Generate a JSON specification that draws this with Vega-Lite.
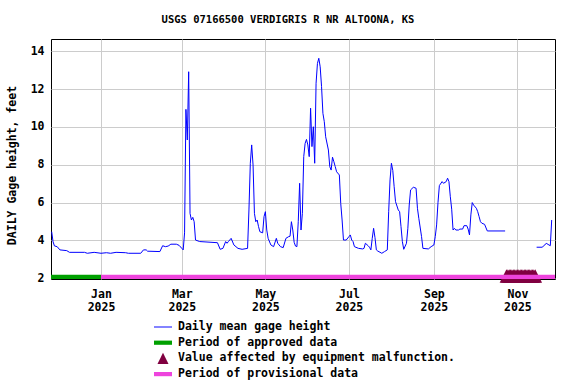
{
  "$schema": "https://vega.github.io/schema/vega-lite/v6.json",
  "autosize": "none",
  "width": 504,
  "height": 240,
  "padding": {"left": 51, "top": 39, "right": 21, "bottom": 105},
  "background": "white",
  "config": {
    "font": "DejaVu Sans Mono",
    "view": {"stroke": "black", "strokeWidth": 1},
    "axis": {"labelFont": "DejaVu Sans Mono", "labelFontWeight": "bold", "labelFontSize": 11.5, "labelColor": "black", "titleFont": "DejaVu Sans Mono", "titleFontWeight": "bold", "titleFontSize": 11.5, "titleColor": "black", "gridColor": "#cccccc", "gridWidth": 1, "domain": false, "ticks": false, "labelOverlap": false}
  },
  "title": {"text": "USGS 07166500 VERDIGRIS R NR ALTOONA, KS", "font": "DejaVu Sans Mono", "fontWeight": "bold", "fontSize": 10.5, "color": "black", "anchor": "middle", "dx": -15, "offset": 14},
  "datasets": {
    "daily": [
      {"date": "2024-11-26", "height": 4.46, "seg": "a"},
      {"date": "2024-11-27", "height": 3.93, "seg": "a"},
      {"date": "2024-11-28", "height": 3.71, "seg": "a"},
      {"date": "2024-11-30", "height": 3.67, "seg": "a"},
      {"date": "2024-12-02", "height": 3.50, "seg": "a"},
      {"date": "2024-12-07", "height": 3.46, "seg": "a"},
      {"date": "2024-12-09", "height": 3.37, "seg": "a"},
      {"date": "2024-12-20", "height": 3.37, "seg": "a"},
      {"date": "2024-12-22", "height": 3.32, "seg": "a"},
      {"date": "2024-12-27", "height": 3.37, "seg": "a"},
      {"date": "2025-01-01", "height": 3.32, "seg": "a"},
      {"date": "2025-01-05", "height": 3.35, "seg": "a"},
      {"date": "2025-01-08", "height": 3.32, "seg": "a"},
      {"date": "2025-01-12", "height": 3.37, "seg": "a"},
      {"date": "2025-01-19", "height": 3.35, "seg": "a"},
      {"date": "2025-01-21", "height": 3.32, "seg": "a"},
      {"date": "2025-01-30", "height": 3.32, "seg": "a"},
      {"date": "2025-02-01", "height": 3.50, "seg": "a"},
      {"date": "2025-02-03", "height": 3.50, "seg": "a"},
      {"date": "2025-02-04", "height": 3.43, "seg": "a"},
      {"date": "2025-02-13", "height": 3.41, "seg": "a"},
      {"date": "2025-02-15", "height": 3.72, "seg": "a"},
      {"date": "2025-02-17", "height": 3.67, "seg": "a"},
      {"date": "2025-02-19", "height": 3.70, "seg": "a"},
      {"date": "2025-02-21", "height": 3.80, "seg": "a"},
      {"date": "2025-02-25", "height": 3.80, "seg": "a"},
      {"date": "2025-02-27", "height": 3.74, "seg": "a"},
      {"date": "2025-03-01", "height": 3.58, "seg": "a"},
      {"date": "2025-03-02", "height": 3.50, "seg": "a"},
      {"date": "2025-03-03", "height": 4.40, "seg": "a"},
      {"date": "2025-03-04", "height": 10.93, "seg": "a"},
      {"date": "2025-03-05", "height": 9.31, "seg": "a"},
      {"date": "2025-03-06", "height": 12.92, "seg": "a"},
      {"date": "2025-03-07", "height": 5.43, "seg": "a"},
      {"date": "2025-03-08", "height": 5.08, "seg": "a"},
      {"date": "2025-03-09", "height": 5.22, "seg": "a"},
      {"date": "2025-03-10", "height": 4.99, "seg": "a"},
      {"date": "2025-03-11", "height": 4.02, "seg": "a"},
      {"date": "2025-03-14", "height": 3.94, "seg": "a"},
      {"date": "2025-03-27", "height": 3.88, "seg": "a"},
      {"date": "2025-03-29", "height": 3.53, "seg": "a"},
      {"date": "2025-03-31", "height": 3.58, "seg": "a"},
      {"date": "2025-04-02", "height": 3.94, "seg": "a"},
      {"date": "2025-04-03", "height": 3.85, "seg": "a"},
      {"date": "2025-04-04", "height": 3.94, "seg": "a"},
      {"date": "2025-04-06", "height": 4.11, "seg": "a"},
      {"date": "2025-04-08", "height": 3.76, "seg": "a"},
      {"date": "2025-04-11", "height": 3.58, "seg": "a"},
      {"date": "2025-04-14", "height": 3.53, "seg": "a"},
      {"date": "2025-04-18", "height": 3.58, "seg": "a"},
      {"date": "2025-04-19", "height": 5.61, "seg": "a"},
      {"date": "2025-04-20", "height": 8.08, "seg": "a"},
      {"date": "2025-04-21", "height": 9.05, "seg": "a"},
      {"date": "2025-04-22", "height": 7.99, "seg": "a"},
      {"date": "2025-04-23", "height": 5.43, "seg": "a"},
      {"date": "2025-04-24", "height": 4.99, "seg": "a"},
      {"date": "2025-04-25", "height": 5.08, "seg": "a"},
      {"date": "2025-04-26", "height": 4.73, "seg": "a"},
      {"date": "2025-04-27", "height": 4.46, "seg": "a"},
      {"date": "2025-04-29", "height": 4.40, "seg": "a"},
      {"date": "2025-04-30", "height": 5.26, "seg": "a"},
      {"date": "2025-05-01", "height": 5.52, "seg": "a"},
      {"date": "2025-05-02", "height": 4.55, "seg": "a"},
      {"date": "2025-05-03", "height": 4.11, "seg": "a"},
      {"date": "2025-05-05", "height": 3.76, "seg": "a"},
      {"date": "2025-05-07", "height": 3.67, "seg": "a"},
      {"date": "2025-05-09", "height": 4.11, "seg": "a"},
      {"date": "2025-05-10", "height": 3.85, "seg": "a"},
      {"date": "2025-05-12", "height": 3.67, "seg": "a"},
      {"date": "2025-05-14", "height": 3.62, "seg": "a"},
      {"date": "2025-05-16", "height": 4.11, "seg": "a"},
      {"date": "2025-05-18", "height": 4.20, "seg": "a"},
      {"date": "2025-05-19", "height": 4.22, "seg": "a"},
      {"date": "2025-05-20", "height": 4.99, "seg": "a"},
      {"date": "2025-05-21", "height": 4.55, "seg": "a"},
      {"date": "2025-05-22", "height": 3.90, "seg": "a"},
      {"date": "2025-05-23", "height": 3.70, "seg": "a"},
      {"date": "2025-05-24", "height": 3.67, "seg": "a"},
      {"date": "2025-05-25", "height": 4.99, "seg": "a"},
      {"date": "2025-05-26", "height": 7.02, "seg": "a"},
      {"date": "2025-05-27", "height": 4.55, "seg": "a"},
      {"date": "2025-05-28", "height": 5.43, "seg": "a"},
      {"date": "2025-05-29", "height": 8.43, "seg": "a"},
      {"date": "2025-05-30", "height": 9.13, "seg": "a"},
      {"date": "2025-05-31", "height": 9.34, "seg": "a"},
      {"date": "2025-06-01", "height": 9.05, "seg": "a"},
      {"date": "2025-06-02", "height": 8.43, "seg": "a"},
      {"date": "2025-06-03", "height": 10.99, "seg": "a"},
      {"date": "2025-06-04", "height": 8.96, "seg": "a"},
      {"date": "2025-06-05", "height": 10.01, "seg": "a"},
      {"date": "2025-06-06", "height": 8.08, "seg": "a"},
      {"date": "2025-06-07", "height": 12.31, "seg": "a"},
      {"date": "2025-06-08", "height": 13.36, "seg": "a"},
      {"date": "2025-06-09", "height": 13.63, "seg": "a"},
      {"date": "2025-06-10", "height": 13.18, "seg": "a"},
      {"date": "2025-06-11", "height": 12.13, "seg": "a"},
      {"date": "2025-06-12", "height": 10.72, "seg": "a"},
      {"date": "2025-06-13", "height": 10.28, "seg": "a"},
      {"date": "2025-06-14", "height": 9.48, "seg": "a"},
      {"date": "2025-06-16", "height": 8.78, "seg": "a"},
      {"date": "2025-06-17", "height": 7.90, "seg": "a"},
      {"date": "2025-06-18", "height": 7.72, "seg": "a"},
      {"date": "2025-06-19", "height": 8.40, "seg": "a"},
      {"date": "2025-06-20", "height": 8.16, "seg": "a"},
      {"date": "2025-06-21", "height": 7.90, "seg": "a"},
      {"date": "2025-06-22", "height": 7.63, "seg": "a"},
      {"date": "2025-06-24", "height": 7.46, "seg": "a"},
      {"date": "2025-06-25", "height": 5.96, "seg": "a"},
      {"date": "2025-06-26", "height": 5.08, "seg": "a"},
      {"date": "2025-06-27", "height": 4.02, "seg": "a"},
      {"date": "2025-06-29", "height": 4.02, "seg": "a"},
      {"date": "2025-07-01", "height": 4.20, "seg": "a"},
      {"date": "2025-07-02", "height": 4.29, "seg": "a"},
      {"date": "2025-07-03", "height": 4.02, "seg": "a"},
      {"date": "2025-07-04", "height": 3.94, "seg": "a"},
      {"date": "2025-07-05", "height": 3.67, "seg": "a"},
      {"date": "2025-07-08", "height": 3.58, "seg": "a"},
      {"date": "2025-07-11", "height": 3.55, "seg": "a"},
      {"date": "2025-07-12", "height": 3.58, "seg": "a"},
      {"date": "2025-07-13", "height": 3.85, "seg": "a"},
      {"date": "2025-07-15", "height": 3.72, "seg": "a"},
      {"date": "2025-07-16", "height": 3.64, "seg": "a"},
      {"date": "2025-07-17", "height": 3.50, "seg": "a"},
      {"date": "2025-07-18", "height": 4.11, "seg": "a"},
      {"date": "2025-07-19", "height": 4.64, "seg": "a"},
      {"date": "2025-07-20", "height": 4.15, "seg": "a"},
      {"date": "2025-07-21", "height": 3.50, "seg": "a"},
      {"date": "2025-07-22", "height": 3.44, "seg": "a"},
      {"date": "2025-07-25", "height": 3.32, "seg": "a"},
      {"date": "2025-07-27", "height": 3.41, "seg": "a"},
      {"date": "2025-07-29", "height": 3.50, "seg": "a"},
      {"date": "2025-07-30", "height": 5.52, "seg": "a"},
      {"date": "2025-07-31", "height": 7.20, "seg": "a"},
      {"date": "2025-08-01", "height": 8.08, "seg": "a"},
      {"date": "2025-08-02", "height": 7.70, "seg": "a"},
      {"date": "2025-08-03", "height": 6.84, "seg": "a"},
      {"date": "2025-08-04", "height": 6.05, "seg": "a"},
      {"date": "2025-08-06", "height": 5.61, "seg": "a"},
      {"date": "2025-08-07", "height": 5.52, "seg": "a"},
      {"date": "2025-08-08", "height": 4.73, "seg": "a"},
      {"date": "2025-08-09", "height": 3.94, "seg": "a"},
      {"date": "2025-08-10", "height": 3.53, "seg": "a"},
      {"date": "2025-08-12", "height": 3.85, "seg": "a"},
      {"date": "2025-08-13", "height": 4.64, "seg": "a"},
      {"date": "2025-08-14", "height": 5.87, "seg": "a"},
      {"date": "2025-08-15", "height": 6.67, "seg": "a"},
      {"date": "2025-08-17", "height": 6.81, "seg": "a"},
      {"date": "2025-08-19", "height": 6.76, "seg": "a"},
      {"date": "2025-08-20", "height": 5.70, "seg": "a"},
      {"date": "2025-08-21", "height": 5.17, "seg": "a"},
      {"date": "2025-08-23", "height": 4.20, "seg": "a"},
      {"date": "2025-08-24", "height": 3.58, "seg": "a"},
      {"date": "2025-08-28", "height": 3.55, "seg": "a"},
      {"date": "2025-08-30", "height": 3.67, "seg": "a"},
      {"date": "2025-09-01", "height": 3.76, "seg": "a"},
      {"date": "2025-09-02", "height": 4.20, "seg": "a"},
      {"date": "2025-09-03", "height": 4.82, "seg": "a"},
      {"date": "2025-09-04", "height": 6.00, "seg": "a"},
      {"date": "2025-09-05", "height": 6.90, "seg": "a"},
      {"date": "2025-09-07", "height": 7.11, "seg": "a"},
      {"date": "2025-09-08", "height": 7.02, "seg": "a"},
      {"date": "2025-09-10", "height": 7.11, "seg": "a"},
      {"date": "2025-09-11", "height": 7.29, "seg": "a"},
      {"date": "2025-09-12", "height": 7.11, "seg": "a"},
      {"date": "2025-09-13", "height": 6.31, "seg": "a"},
      {"date": "2025-09-14", "height": 5.65, "seg": "a"},
      {"date": "2025-09-15", "height": 4.55, "seg": "a"},
      {"date": "2025-09-16", "height": 4.64, "seg": "a"},
      {"date": "2025-09-17", "height": 4.55, "seg": "a"},
      {"date": "2025-09-19", "height": 4.55, "seg": "a"},
      {"date": "2025-09-20", "height": 4.60, "seg": "a"},
      {"date": "2025-09-22", "height": 4.60, "seg": "a"},
      {"date": "2025-09-23", "height": 4.78, "seg": "a"},
      {"date": "2025-09-25", "height": 4.78, "seg": "a"},
      {"date": "2025-09-26", "height": 4.60, "seg": "a"},
      {"date": "2025-09-27", "height": 4.29, "seg": "a"},
      {"date": "2025-09-28", "height": 5.35, "seg": "a"},
      {"date": "2025-09-29", "height": 6.00, "seg": "a"},
      {"date": "2025-09-30", "height": 5.87, "seg": "a"},
      {"date": "2025-10-02", "height": 5.70, "seg": "a"},
      {"date": "2025-10-03", "height": 5.52, "seg": "a"},
      {"date": "2025-10-04", "height": 5.26, "seg": "a"},
      {"date": "2025-10-05", "height": 4.99, "seg": "a"},
      {"date": "2025-10-06", "height": 4.91, "seg": "a"},
      {"date": "2025-10-08", "height": 4.85, "seg": "a"},
      {"date": "2025-10-10", "height": 4.50, "seg": "a"},
      {"date": "2025-10-23", "height": 4.50, "seg": "a"},
      {"date": "2025-11-15", "height": 3.64, "seg": "b"},
      {"date": "2025-11-19", "height": 3.64, "seg": "b"},
      {"date": "2025-11-21", "height": 3.76, "seg": "b"},
      {"date": "2025-11-22", "height": 3.85, "seg": "b"},
      {"date": "2025-11-24", "height": 3.76, "seg": "b"},
      {"date": "2025-11-25", "height": 3.72, "seg": "b"},
      {"date": "2025-11-26", "height": 5.08, "seg": "b"}
    ],
    "periods": [
      {"series": "Period of approved data", "start": "2024-11-25", "end": "2025-01-01"},
      {"series": "Period of provisional data", "start": "2025-01-01", "end": "2025-11-29"}
    ],
    "flags": [
      {"date": "2025-10-24", "series": "Value affected by equipment malfunction."},
      {"date": "2025-10-25", "series": "Value affected by equipment malfunction."},
      {"date": "2025-10-26", "series": "Value affected by equipment malfunction."},
      {"date": "2025-10-27", "series": "Value affected by equipment malfunction."},
      {"date": "2025-10-28", "series": "Value affected by equipment malfunction."},
      {"date": "2025-10-29", "series": "Value affected by equipment malfunction."},
      {"date": "2025-10-30", "series": "Value affected by equipment malfunction."},
      {"date": "2025-10-31", "series": "Value affected by equipment malfunction."},
      {"date": "2025-11-01", "series": "Value affected by equipment malfunction."},
      {"date": "2025-11-02", "series": "Value affected by equipment malfunction."},
      {"date": "2025-11-03", "series": "Value affected by equipment malfunction."},
      {"date": "2025-11-04", "series": "Value affected by equipment malfunction."},
      {"date": "2025-11-05", "series": "Value affected by equipment malfunction."},
      {"date": "2025-11-06", "series": "Value affected by equipment malfunction."},
      {"date": "2025-11-07", "series": "Value affected by equipment malfunction."},
      {"date": "2025-11-08", "series": "Value affected by equipment malfunction."},
      {"date": "2025-11-09", "series": "Value affected by equipment malfunction."},
      {"date": "2025-11-10", "series": "Value affected by equipment malfunction."},
      {"date": "2025-11-11", "series": "Value affected by equipment malfunction."},
      {"date": "2025-11-12", "series": "Value affected by equipment malfunction."},
      {"date": "2025-11-13", "series": "Value affected by equipment malfunction."},
      {"date": "2025-11-14", "series": "Value affected by equipment malfunction."}
    ]
  },
  "encoding": {
    "x": {
      "type": "temporal",
      "scale": {"type": "utc", "domain": [{"year": 2024, "month": 11, "date": 25, "hours": 12, "utc": true}, {"year": 2025, "month": 11, "date": 28, "hours": 10, "utc": true}]},
      "axis": {
        "title": null,
        "grid": true,
        "values": [
          {"year": 2025, "month": 1, "date": 1, "utc": true},
          {"year": 2025, "month": 3, "date": 1, "utc": true},
          {"year": 2025, "month": 5, "date": 1, "utc": true},
          {"year": 2025, "month": 7, "date": 1, "utc": true},
          {"year": 2025, "month": 9, "date": 1, "utc": true},
          {"year": 2025, "month": 11, "date": 1, "utc": true}
        ],
        "labelExpr": "[utcFormat(datum.value, '%b'), utcFormat(datum.value, '%Y')]",
        "labelLineHeight": 13,
        "labelPadding": 9,
        "labelAlign": "center",
        "labelBaseline": "top"
      }
    },
    "y": {
      "type": "quantitative",
      "scale": {"domain": [1.96, 14.65], "nice": false, "zero": false},
      "axis": {"title": "DAILY Gage height, feet", "values": [2, 4, 6, 8, 10, 12, 14], "tickCount": 7, "grid": true, "labelOverlap": false, "labelPadding": 7, "titleX": -39, "titleY": 126, "titleAngle": -90, "titleAlign": "center", "titleBaseline": "middle"}
    }
  },
  "layer": [
    {
      "data": {"name": "flags"},
      "mark": {"type": "point", "filled": true, "opacity": 1, "size": 300, "strokeWidth": 0},
      "encoding": {
        "x": {"field": "date", "type": "temporal"},
        "y": {"datum": 2.12, "type": "quantitative"},
        "color": {
          "field": "series", "type": "nominal",
          "scale": {"domain": ["Daily mean gage height", "Period of approved data", "Value affected by equipment malfunction.", "Period of provisional data"], "range": ["#0000ff", "#00a000", "#800040", "#ee44dd"]},
          "legend": {"title": null, "orient": "none", "legendX": 105, "legendY": 281, "padding": 0, "direction": "vertical", "symbolSize": 196, "symbolStrokeWidth": 0, "symbolOpacity": 1, "labelFont": "DejaVu Sans Mono", "labelFontWeight": "bold", "labelFontSize": 11.5, "labelColor": "black", "labelOffset": 8, "rowPadding": 2.7, "labelLimit": 400}
        },
        "shape": {
          "field": "series", "type": "nominal",
          "scale": {"domain": ["Daily mean gage height", "Period of approved data", "Value affected by equipment malfunction.", "Period of provisional data"], "range": ["M-1.29,-0.07H1.29V0.07H-1.29Z", "M-1.29,-0.3H1.29V0.3H-1.29Z", "M0,-0.79L0.79,0.79H-0.79Z", "M-1.29,-0.3H1.29V0.3H-1.29Z"]}
        }
      }
    },
    {
      "data": {"name": "periods"},
      "transform": [{"filter": "datum.series === 'Period of approved data'"}],
      "mark": {"type": "rule", "color": "#00a000", "strokeWidth": 4.5, "clip": true},
      "encoding": {
        "x": {"field": "start", "type": "temporal"},
        "x2": {"field": "end"},
        "y": {"datum": 2.07, "type": "quantitative"}
      }
    },
    {
      "data": {"name": "periods"},
      "transform": [{"filter": "datum.series === 'Period of provisional data'"}],
      "mark": {"type": "rule", "color": "#ee44dd", "strokeWidth": 4.5, "clip": true},
      "encoding": {
        "x": {"field": "start", "type": "temporal"},
        "x2": {"field": "end"},
        "y": {"datum": 2.07, "type": "quantitative"}
      }
    },
    {
      "data": {"name": "daily"},
      "mark": {"type": "line", "color": "#0000ff", "strokeWidth": 1},
      "encoding": {
        "x": {"field": "date", "type": "temporal"},
        "y": {"field": "height", "type": "quantitative"},
        "detail": {"field": "seg"}
      }
    }
  ]
}
